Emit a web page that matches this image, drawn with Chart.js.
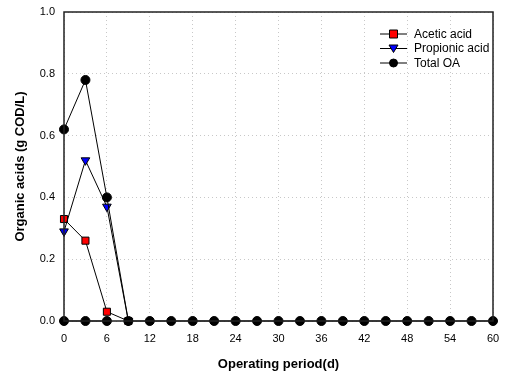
<!DOCTYPE html>
<html lang="en">
<head>
<meta charset="UTF-8">
<script src="https://cdn.jsdelivr.net/npm/chart.js"></script>
<title>Organic acids</title>
<style>
  html, body { margin: 0; padding: 0; background: #fff; }
  #wrap { width: 508px; height: 376px; }
</style>
</head>
<body>
<div id="wrap"><canvas id="grafico"></canvas></div>
<script>
// operating days, sampled every 3 days
const days = [0, 3, 6, 9, 12, 15, 18, 21, 24, 27, 30, 33, 36, 39, 42, 45, 48, 51, 54, 57, 60];
const aceticDays = [0, 3, 6, 9];
const acetic = [0.33, 0.26, 0.03, 0.0];
const propionicDays = [0, 3, 6, 9];
const propionic = [0.29, 0.52, 0.37, 0.0];
const totalOA = [0.62, 0.78, 0.40, 0, 0, 0, 0, 0, 0, 0, 0, 0, 0, 0, 0, 0, 0, 0, 0, 0, 0];
const baseDays = [0, 3, 6];
const baseline = [0, 0, 0];
const xTicks = [0, 6, 12, 18, 24, 30, 36, 42, 48, 54, 60];
const yTicks = [0, 0.2, 0.4, 0.6, 0.8, 1.0];

const FONT = "'Liberation Sans', Arial, sans-serif";

function pts(xs, ys) {
    return xs.map((x, i) => ({ x: x, y: ys[i] }));
}

// box round the plot + legend with line-marker-line symbols
const frame = {
    id: 'frame',
    afterDatasetsDraw(chart) {
        const { ctx, chartArea: a } = chart;
        ctx.save();
        ctx.strokeStyle = '#222';
        ctx.lineWidth = 1.5;
        ctx.strokeRect(a.left, a.top, a.right - a.left, a.bottom - a.top);
        ctx.restore();
    },
    afterDraw(chart) {
        const ctx = chart.ctx;
        const items = [
            { label: 'Acetic acid', style: 'rect', color: '#ff0000', r: 4.5 },
            { label: 'Propionic acid', style: 'triangle', color: '#0000ff', r: 4.5 },
            { label: 'Total OA', style: 'circle', color: '#000000', r: 4 }
        ];
        ctx.save();
        ctx.font = '12px ' + FONT;
        ctx.textBaseline = 'middle';
        items.forEach((it, i) => {
            const y = 34 + i * 14.5;
            ctx.strokeStyle = '#000';
            ctx.lineWidth = 1;
            ctx.beginPath();
            ctx.moveTo(380, y);
            ctx.lineTo(407, y);
            ctx.stroke();
            ctx.fillStyle = it.color;
            ctx.beginPath();
            if (it.style === 'rect') {
                ctx.rect(393.5 - 4, y - 4, 8, 8);
            } else if (it.style === 'triangle') {
                ctx.moveTo(393.5 - 4.5, y - 3.5);
                ctx.lineTo(393.5 + 4.5, y - 3.5);
                ctx.lineTo(393.5, y + 4);
                ctx.closePath();
            } else {
                ctx.arc(393.5, y, it.r, 0, Math.PI * 2);
            }
            ctx.fill();
            ctx.stroke();
            ctx.fillStyle = '#000';
            ctx.fillText(it.label, 414, y + 0.5);
        });
        ctx.restore();
    }
};

new Chart(document.getElementById('grafico'), {
    type: 'line',
    data: {
        datasets: [
            {
                label: 'Total OA',
                data: pts(days, totalOA),
                borderColor: '#000',
                borderWidth: 1,
                pointStyle: 'circle',
                pointRadius: 4.5,
                pointBackgroundColor: '#000',
                pointBorderColor: '#000',
                order: 0
            },
            {
                label: 'Propionic acid',
                data: pts(propionicDays, propionic),
                borderColor: '#000',
                borderWidth: 1,
                pointStyle: 'triangle',
                rotation: 180,
                pointRadius: 5,
                pointBackgroundColor: '#0000ff',
                pointBorderColor: '#000',
                order: 1
            },
            {
                label: 'Acetic acid',
                data: pts(aceticDays, acetic),
                borderColor: '#000',
                borderWidth: 1,
                pointStyle: 'rect',
                pointRadius: 5,
                pointBackgroundColor: '#ff0000',
                pointBorderColor: '#000',
                order: 2
            },
            {
                label: 'zero',
                data: pts(baseDays, baseline),
                borderColor: '#000',
                borderWidth: 1,
                pointStyle: 'circle',
                pointRadius: 4.5,
                pointBackgroundColor: '#000',
                pointBorderColor: '#000',
                order: 3
            }
        ]
    },
    options: {
        responsive: true,
        maintainAspectRatio: false,
        animation: false,
        clip: false,
        layout: { padding: { left: 9, top: 12, right: 15, bottom: 0 } },
        plugins: {
            legend: { display: false },
            tooltip: { enabled: false }
        },
        scales: {
            x: {
                type: 'linear',
                min: 0,
                max: 60,
                afterBuildTicks: s => { s.ticks = xTicks.map(v => ({ value: v })); },
                afterFit: s => {
                    s.height = 55;
                    s.paddingLeft = 0;
                    s.paddingRight = 0;
                },
                ticks: {
                    color: '#000',
                    font: { family: FONT, size: 11 },
                    maxRotation: 0,
                    padding: 11
                },
                grid: {
                    color: '#c8c8c8',
                    lineWidth: 1,
                    drawTicks: false
                },
                border: { display: false, dash: [1, 3] },
                title: {
                    display: true,
                    text: 'Operating period(d)',
                    color: '#000',
                    font: { family: FONT, size: 13, weight: 'bold' },
                    padding: { top: 12 }
                }
            },
            y: {
                min: 0,
                max: 1,
                afterBuildTicks: s => { s.ticks = yTicks.map(v => ({ value: v })); },
                afterFit: s => {
                    s.width = 55;
                    s.paddingTop = 0;
                    s.paddingBottom = 0;
                },
                ticks: {
                    color: '#000',
                    font: { family: FONT, size: 11 },
                    padding: 9,
                    callback: v => v.toFixed(1)
                },
                grid: {
                    color: '#c8c8c8',
                    lineWidth: 1,
                    drawTicks: false
                },
                border: { display: false, dash: [1, 3] },
                title: {
                    display: true,
                    text: 'Organic acids (g COD/L)',
                    color: '#000',
                    font: { family: FONT, size: 13, weight: 'bold' },
                    padding: { bottom: 6 }
                }
            }
        }
    },
    plugins: [frame]
});
</script>
</body>
</html>
